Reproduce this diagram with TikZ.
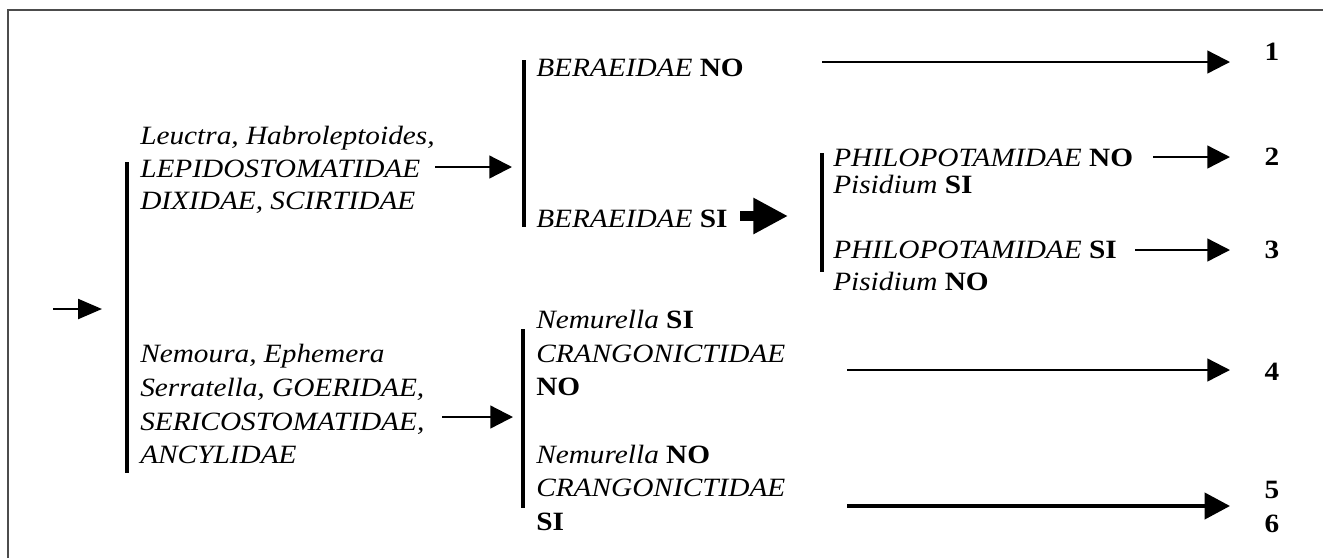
\documentclass[tikz,border=0pt]{standalone}
\usepackage{fontspec}
\setmainfont{Liberation Serif}[FakeStretch=1.11]
\usetikzlibrary{arrows.meta}
\begin{document}
\begin{tikzpicture}[x=0.75pt,y=-0.75pt,
  txt/.style={anchor=base west,inner sep=0pt,font=\fontsize{19.8}{23}\selectfont\itshape},
  num/.style={anchor=base,inner sep=0pt,font=\fontsize{19.8}{23}\selectfont\bfseries},
  brk/.style={line width=2.6pt},
  arr/.style={line width=1.75pt,-{Triangle[length=17pt,width=17pt]}},
  inarr/.style={line width=1.75pt,-{Triangle[length=18pt,width=15pt]}},
  fatarr/.style={line width=7.5pt,-{Triangle[length=26pt,width=25.5pt]}},
  boldarr/.style={line width=3pt,-{Triangle[length=19pt,width=19.5pt]}},
  framel/.style={draw=black!70,line width=1.1pt}]
\useasboundingbox (0,0) rectangle (1323,558);
% frame
\draw[framel] (8,558) -- (8,10) -- (1323,10);

% brackets
\coordinate (B0t) at (127,162); \coordinate (B0b) at (127,473);
\coordinate (B1t) at (524,60);  \coordinate (B1b) at (524,227);
\coordinate (B2t) at (822,153); \coordinate (B2b) at (822,272);
\coordinate (B3t) at (523,329); \coordinate (B3b) at (523,508);
\draw[brk] (B0t) -- (B0b);
\draw[brk] (B1t) -- (B1b);
\draw[brk] (B2t) -- (B2b);
\draw[brk] (B3t) -- (B3b);

% texts
\node[txt] (t1a) at (140,144) {Leuctra, Habroleptoides,};
\node[txt] (t1b) at (140,177) {LEPIDOSTOMATIDAE};
\node[txt] (t1c) at (140,209) {DIXIDAE, SCIRTIDAE};

\node[txt] (t2a) at (140,362) {Nemoura, Ephemera};
\node[txt] (t2b) at (140,396) {Serratella, GOERIDAE,};
\node[txt] (t2c) at (140,430) {SERICOSTOMATIDAE,};
\node[txt] (t2d) at (140,463) {ANCYLIDAE};

\node[txt] (bno) at (536,76) {BERAEIDAE {\upshape\bfseries NO}};
\node[txt] (bsi) at (536,227) {BERAEIDAE {\upshape\bfseries SI}};

\node[txt] (pno) at (833,166) {PHILOPOTAMIDAE {\upshape\bfseries NO}};
\node[txt] (psi) at (833,193) {Pisidium {\upshape\bfseries SI}};
\node[txt] (p2si) at (833,258) {PHILOPOTAMIDAE {\upshape\bfseries SI}};
\node[txt] (p2no) at (833,290) {Pisidium {\upshape\bfseries NO}};

\node[txt] (n1a) at (536,328) {Nemurella {\upshape\bfseries SI}};
\node[txt] (n1b) at (536,362) {CRANGONICTIDAE};
\node[txt] (n1c) at (536,395) {\upshape\bfseries NO};
\node[txt] (n2a) at (536,463) {Nemurella {\upshape\bfseries NO}};
\node[txt] (n2b) at (536,496) {CRANGONICTIDAE};
\node[txt] (n2c) at (536,530) {\upshape\bfseries SI};

\node[num] (r1) at (1272,60) {1};
\node[num] (r2) at (1272,165) {2};
\node[num] (r3) at (1272,258) {3};
\node[num] (r4) at (1272,380) {4};
\node[num] (r5) at (1272,498) {5};
\node[num] (r6) at (1272,532) {6};

% arrow end points
\coordinate (inS) at (53,309);  \coordinate (inE) at (102,309);
\coordinate (a1S) at (435,167); \coordinate (a1E) at (512,167);
\coordinate (a2S) at (442,417); \coordinate (a2E) at (513,417);
\coordinate (aBS) at (740,216); \coordinate (aBE) at (788,216);
\coordinate (r1S) at (822,62);  \coordinate (r1E) at (1230,62);
\coordinate (r2S) at (1153,157); \coordinate (r2E) at (1230,157);
\coordinate (r3S) at (1135,250); \coordinate (r3E) at (1230,250);
\coordinate (r4S) at (847,370); \coordinate (r4E) at (1230,370);
\coordinate (r5S) at (847,506); \coordinate (r5E) at (1230,506);

\draw[inarr] (inS) -- (inE);
\draw[arr] (a1S) -- (a1E);
\draw[arr] (a2S) -- (a2E);
\draw[fatarr] (aBS) -- (aBE);
\draw[arr] (r1S) -- (r1E);
\draw[arr] (r2S) -- (r2E);
\draw[arr] (r3S) -- (r3E);
\draw[arr] (r4S) -- (r4E);
\draw[boldarr] (r5S) -- (r5E);
\end{tikzpicture}
\end{document}
